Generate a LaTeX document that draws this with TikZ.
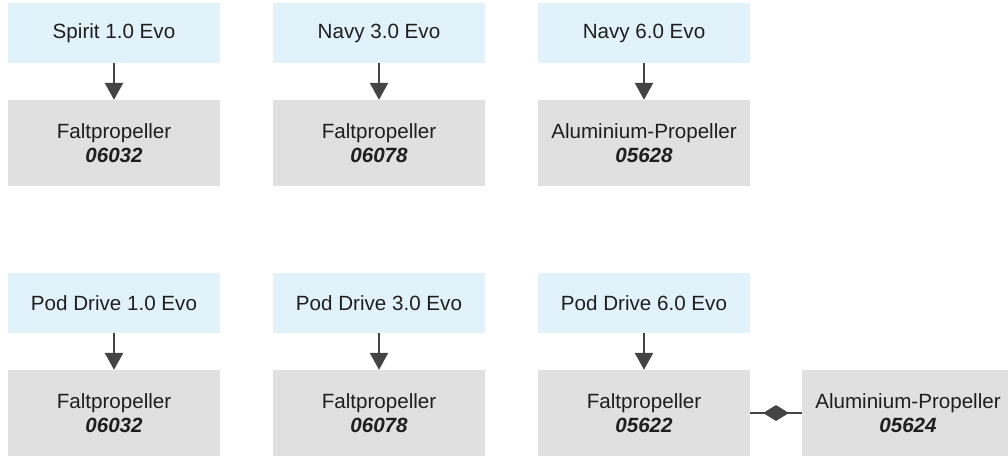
\documentclass[tikz,border=0pt]{standalone}
\usepackage{fontspec}
\setmainfont{Liberation Sans}
\usetikzlibrary{arrows.meta,calc,shapes.geometric}
\definecolor{topfill}{HTML}{E1F2FB}
\definecolor{botfill}{HTML}{E0E0E0}
\definecolor{linec}{HTML}{444444}
\begin{document}
\begin{tikzpicture}[x=1pt,y=-1pt,
  topbox/.style={fill=topfill,draw=none,minimum width=212pt,minimum height=60pt,inner sep=0pt,font=\fontsize{20.6}{24}\selectfont,text=black!88},
  botbox/.style={fill=botfill,draw=none,minimum width=212pt,minimum height=86pt,inner sep=0pt,align=center,font=\fontsize{20.6}{24}\selectfont,text=black!88},
  conn/.style={draw=linec,line width=2.5pt,-{Triangle[length=17pt,width=18pt]}},
  diam/.style={diamond,fill=linec,draw=none,inner sep=0pt,minimum width=26pt,minimum height=16pt,aspect=1.6}]
\useasboundingbox (0,0) rectangle (1008,458);
\node[topbox] (t1) at (114,33) {Spirit 1.0 Evo};
\node[topbox] (t2) at (379,33) {Navy 3.0 Evo};
\node[topbox] (t3) at (644,33) {Navy 6.0 Evo};
\node[botbox] (b1) at (114,143) {Faltpropeller\\\textbf{\textit{06032}}};
\node[botbox] (b2) at (379,143) {Faltpropeller\\\textbf{\textit{06078}}};
\node[botbox] (b3) at (644,143) {Aluminium-Propeller\\\textbf{\textit{05628}}};
\node[topbox] (t4) at (114,303) {Pod Drive 1.0 Evo};
\node[topbox] (t5) at (379,303) {Pod Drive 3.0 Evo};
\node[topbox] (t6) at (644,303) {Pod Drive 6.0 Evo};
\node[botbox] (b4) at (114,413) {Faltpropeller\\\textbf{\textit{06032}}};
\node[botbox] (b5) at (379,413) {Faltpropeller\\\textbf{\textit{06078}}};
\node[botbox] (b6) at (644,413) {Faltpropeller\\\textbf{\textit{05622}}};
\node[botbox] (b7) at (908,413) {Aluminium-Propeller\\\textbf{\textit{05624}}};
\foreach \a/\b in {t1/b1,t2/b2,t3/b3,t4/b4,t5/b5,t6/b6}
  \draw[conn] (\a.south) -- (\b.north);
\draw[draw=linec,line width=2.5pt] (b6.east) -- (b7.west);
\node[diam] (dm) at ($(b6.east)!0.5!(b7.west)$) {};
\end{tikzpicture}
\end{document}
